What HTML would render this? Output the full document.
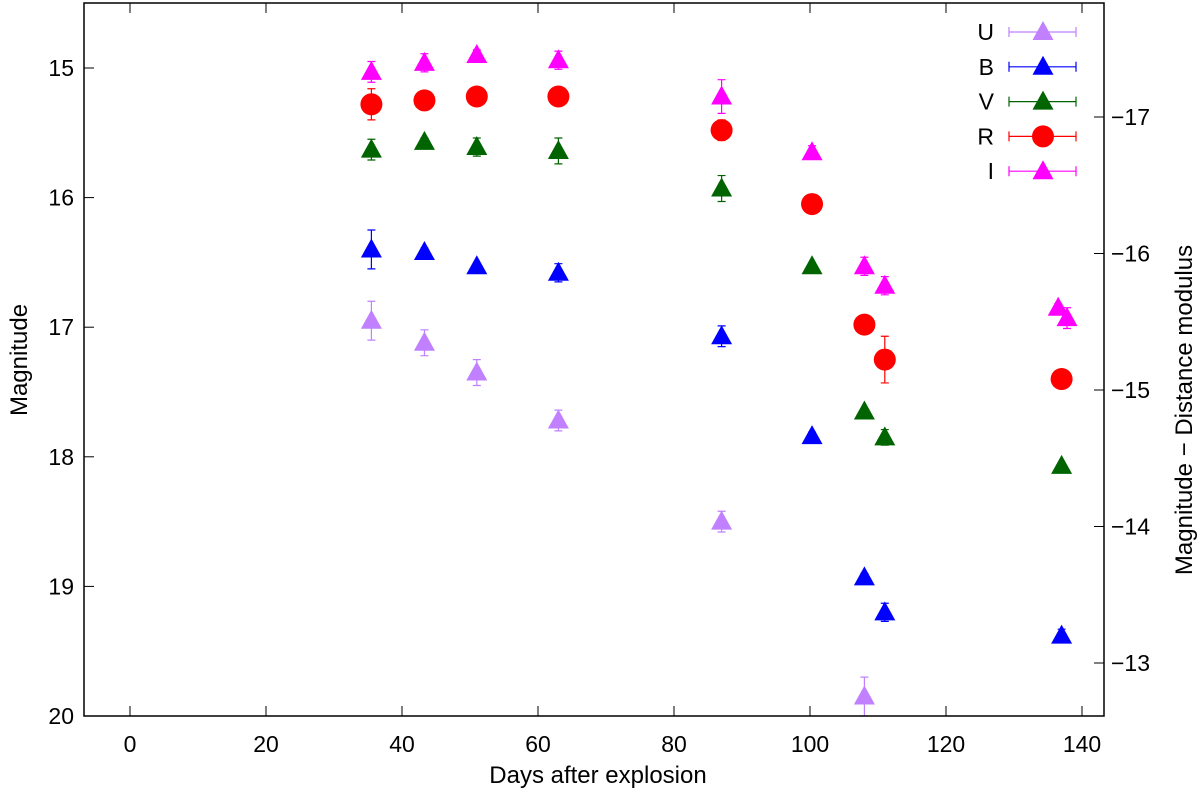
<!DOCTYPE html>
<html><head><meta charset="utf-8"><style>
body{margin:0;background:#fff}
svg{display:block;font-family:"Liberation Sans",sans-serif}
</style></head><body>
<svg id="chart" width="1200" height="793" viewBox="0 0 1200 793" xmlns="http://www.w3.org/2000/svg">
<g id="grid"></g>
<g id="marks"></g>
<rect x="84" y="3" width="1020" height="713" fill="none" stroke="#000" stroke-width="1.5"/>
<text x="598" y="783" font-size="24" text-anchor="middle">Days after explosion</text>
<text transform="translate(27,360) rotate(-90)" font-size="24" text-anchor="middle">Magnitude</text>
<text transform="translate(1192,410) rotate(-90)" font-size="24" text-anchor="middle">Magnitude − Distance modulus</text>
<g id="legend"></g>
</svg>
<script>
const xTicks=[0,20,40,60,80,100,120,140];
const yTicks=[15,16,17,18,19,20];
const y2Ticks=[-17,-16,-15,-14,-13];
const uDays=[35.5,43.3,51,63,87,108];
const uMag=[16.95,17.12,17.35,17.72,18.5,19.85];
const uErr=[0.15,0.1,0.1,0.08,0.08,0.15];
const bDays=[35.5,43.3,51,63,87,100.3,108,111,137];
const bMag=[16.4,16.42,16.53,16.58,17.07,17.84,18.93,19.2,19.38];
const bErr=[0.15,0.03,0.02,0.07,0.08,0.03,0.03,0.07,0.05];
const vDays=[35.5,43.3,51,63,87,100.3,108,111,137];
const vMag=[15.63,15.57,15.61,15.64,15.93,16.53,17.65,17.85,18.07];
const vErr=[0.08,0.03,0.07,0.1,0.1,0.02,0.02,0.06,0.02];
const rDays=[35.5,43.3,51,63,87,100.3,108,111,137];
const rMag=[15.28,15.25,15.22,15.22,15.48,16.05,16.98,17.25,17.4];
const rErr=[0.12,0.02,0.02,0.02,0.08,0.02,0.02,0.18,0.02];
const iDays=[35.5,43.3,51,63,87,100.3,108,111,136.5,137.8];
const iMag=[15.03,14.96,14.9,14.94,15.22,15.65,16.53,16.68,16.85,16.93];
const iErr=[0.08,0.07,0.04,0.07,0.13,0.05,0.07,0.07,0.03,0.08];
const NS="http://www.w3.org/2000/svg";
const X=d=>130+d*6.8;
const Y=m=>68+(m-15)*129.6;
const Y2=v=>117+(v+17)*136.5;
function mk(tag,at,parent){const e=document.createElementNS(NS,tag);for(const k in at)e.setAttribute(k,at[k]);parent.appendChild(e);return e;}
const g=document.getElementById('grid');
xTicks.forEach(t=>{
 const l=mk('line',{x1:X(t),x2:X(t),y1:716,y2:706,stroke:'#000'},g);
 
 
 const l2=mk('line',{x1:X(t),x2:X(t),y1:3,y2:13,stroke:'#000'},g);
 
 
 const tx=mk('text',{x:X(t),y:752,'font-size':23,'text-anchor':'middle'},g);tx.textContent=t;
 
 
});
yTicks.forEach(t=>{
 const l=mk('line',{x1:84,x2:94,y1:Y(t),y2:Y(t),stroke:'#000'},g);
 
 
 const tx=mk('text',{x:74,y:Y(t)+8,'font-size':23,'text-anchor':'end'},g);tx.textContent=t;
 
 
});
y2Ticks.forEach(t=>{
 const l=mk('line',{x1:1094,x2:1104,y1:Y2(t),y2:Y2(t),stroke:'#000'},g);
 
 
 const tx=mk('text',{x:1111,y:Y2(t)+8,'font-size':23},g);tx.textContent='−'+Math.abs(t);
 
 
});
const m=document.getElementById('marks');
function marker(cx,cy,col,circle,p){
 if(circle)return mk('circle',{cx:cx,cy:cy,r:11,fill:col},p);
 return mk('polygon',{points:`${cx-10.5},${cy+8} ${cx+10.5},${cy+8} ${cx},${cy-11}`,fill:col},p);
}
function series(name,days,mags,errs,col,circle){
 days.forEach((d,i)=>{
  const cx=X(d),cy=Y(mags[i]),e=errs[i]*129.6;
  const bar=mk('path',{d:`M${cx},${cy-e}V${cy+e}M${cx-4},${cy-e}H${cx+4}M${cx-4},${cy+e}H${cx+4}`,stroke:col,fill:'none','stroke-width':1.2},m);
  
  
  const pt=marker(cx,cy,col,circle,m);
  
  
 });
}
series('u-band',uDays,uMag,uErr,'#c080ff',false);
series('b-band',bDays,bMag,bErr,'#0000ff',false);
series('v-band',vDays,vMag,vErr,'#006400',false);
series('r-band',rDays,rMag,rErr,'#ff0000',true);
series('i-band',iDays,iMag,iErr,'#ff00ff',false);
const lg=document.getElementById('legend');
const legNames=['U','B','V','R','I'];
const legCols=['#c080ff','#0000ff','#006400','#ff0000','#ff00ff'];
legNames.forEach((n,i)=>{
 const y=32+i*34.8;
 const grp=mk('g',{},lg);
 
 
 const t=mk('text',{x:994,y:y+8,'font-size':23,'text-anchor':'end'},grp);t.textContent=n;
 mk('path',{d:`M1009,${y}H1076M1009,${y-5}V${y+5}M1076,${y-5}V${y+5}`,stroke:legCols[i],fill:'none','stroke-width':1.2},grp);
 marker(1043,y,legCols[i],n==='R',grp);
});
</script>
</body></html>
